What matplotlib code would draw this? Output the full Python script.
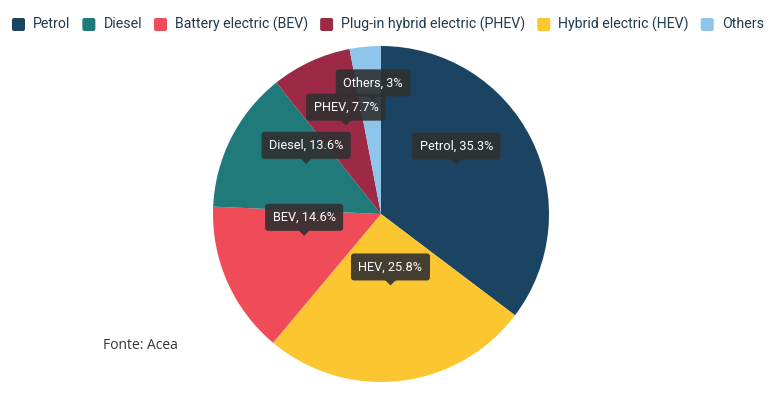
import matplotlib
matplotlib.use("Agg")
import matplotlib.pyplot as plt
import numpy as np
from matplotlib.patches import FancyBboxPatch, PathPatch
from matplotlib.path import Path
from matplotlib.transforms import IdentityTransform

# slice order: clockwise from 12 o'clock
slice_names = ["Petrol", "HEV", "BEV", "Diesel", "PHEV", "Others"]
slice_values = [35.3, 25.8, 14.6, 13.6, 7.7, 3.0]
slice_colors = ["#1b4462", "#fbc630", "#f04b58", "#1f7a79", "#9c2a47", "#8fc5ea"]
value_labels = ["35.3", "25.8", "14.6", "13.6", "7.7", "3"]

# legend order
legend_names = ["Petrol", "Diesel", "Battery electric (BEV)",
                "Plug-in hybrid electric (PHEV)", "Hybrid electric (HEV)", "Others"]
legend_keys = ["Petrol", "Diesel", "BEV", "PHEV", "HEV", "Others"]

source = "Fonte: Acea"

W, H = 783, 394
fig = plt.figure(figsize=(W / 100, H / 100), dpi=100)
fig.patch.set_facecolor("white")

cx, cy, R = 381, 214, 168
ax = fig.add_axes([(cx - R) / W, (H - cy - R) / H, 2 * R / W, 2 * R / H])

ax.pie(slice_values, colors=slice_colors, startangle=90, counterclock=False,
       radius=1, wedgeprops=dict(linewidth=0))
ax.set_xlim(-1, 1)
ax.set_ylim(-1, 1)
ax.axis("off")

fig.canvas.draw()
renderer = fig.canvas.get_renderer()

# tooltip-style labels at half radius, tip 12px above the anchor
total = sum(slice_values)
starts = np.concatenate([[0], np.cumsum(slice_values)[:-1]])
lift = {"Others": 17}
box_h, arrow_h, pad_x = 27, 5, 7.5
for i, (name, v, s, lab) in enumerate(zip(slice_names, slice_values, starts, value_labels)):
    theta = 2 * np.pi * (s + v / 2) / total
    ax_pt = (0.5 * np.sin(theta), 0.5 * np.cos(theta))
    tx, ty = ax.transData.transform(ax_pt)
    ty += 12 + lift.get(name, 0)
    z = 10 + 2 * (len(slice_names) - i)
    t = fig.text(tx / W, (ty + arrow_h + box_h / 2) / H, f"{name}, {lab}%",
                 ha="center", va="center", color="white", family="Roboto",
                 fontsize=9.2, zorder=z + 1)
    tw = t.get_window_extent(renderer).width
    w = tw + 2 * pad_x
    x0, y0 = tx - w / 2, ty + arrow_h
    box = FancyBboxPatch((x0, y0), w, box_h, boxstyle="round,pad=0,rounding_size=3")
    tri = Path([(tx - 6, y0 + 1), (tx, ty), (tx + 6, y0 + 1), (tx - 6, y0 + 1)],
               [Path.MOVETO, Path.LINETO, Path.LINETO, Path.CLOSEPOLY])
    shape = Path.make_compound_path(box.get_path(), tri)
    fig.add_artist(PathPatch(shape, transform=IdentityTransform(), facecolor="#303030",
                             edgecolor="none", alpha=0.9, zorder=z))

# legend laid out left to right
color_of = dict(zip(slice_names, slice_colors))
x = 12
ly = H - 24.5
for key, name in zip(legend_keys, legend_names):
    sq = FancyBboxPatch((x, ly - 6.5), 13, 13, boxstyle="round,pad=0,rounding_size=2",
                        transform=IdentityTransform(), facecolor=color_of[key],
                        edgecolor="none")
    fig.add_artist(sq)
    t = fig.text((x + 21) / W, ly / H, name, ha="left", va="center",
                 family="Roboto", fontsize=10.2, color="#1f3a4f")
    x = t.get_window_extent(renderer).x1 + 12

fig.text(103 / W, (H - 349) / H, source, ha="left", va="baseline",
         family="Open Sans", fontsize=10, color="#333333")

fig.savefig("out.png", dpi=100, facecolor="white")
